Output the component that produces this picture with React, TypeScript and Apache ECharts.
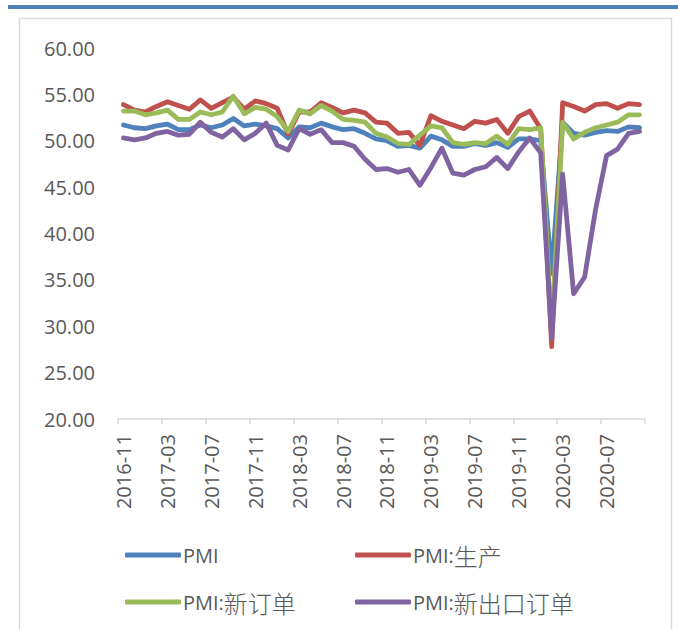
import React, { useEffect, useRef } from "react";
import * as echarts from "echarts";

const months: string[] = [
  "2016-11", "2016-12",
  "2017-01", "2017-02", "2017-03", "2017-04", "2017-05", "2017-06", "2017-07", "2017-08", "2017-09", "2017-10", "2017-11", "2017-12",
  "2018-01", "2018-02", "2018-03", "2018-04", "2018-05", "2018-06", "2018-07", "2018-08", "2018-09", "2018-10", "2018-11", "2018-12",
  "2019-01", "2019-02", "2019-03", "2019-04", "2019-05", "2019-06", "2019-07", "2019-08", "2019-09", "2019-10", "2019-11", "2019-12",
  "2020-01", "2020-02", "2020-03", "2020-04", "2020-05", "2020-06", "2020-07", "2020-08", "2020-09", "2020-10",
];

const pmi: number[] = [
  51.7, 51.4,
  51.3, 51.6, 51.8, 51.2, 51.2, 51.7, 51.4, 51.7, 52.4, 51.6, 51.8, 51.6,
  51.3, 50.3, 51.5, 51.4, 51.9, 51.5, 51.2, 51.3, 50.8, 50.2, 50.0, 49.4,
  49.5, 49.2, 50.5, 50.1, 49.4, 49.4, 49.7, 49.5, 49.8, 49.3, 50.2, 50.2,
  50.0, 35.7, 52.0, 50.8, 50.6, 50.9, 51.1, 51.0, 51.5, 51.4,
];

const production: number[] = [
  53.9, 53.3,
  53.1, 53.7, 54.2, 53.8, 53.4, 54.4, 53.5, 54.1, 54.7, 53.4, 54.3, 54.0,
  53.5, 50.7, 53.1, 53.1, 54.1, 53.6, 53.0, 53.3, 53.0, 52.0, 51.9, 50.8,
  50.9, 49.5, 52.7, 52.1, 51.7, 51.3, 52.1, 51.9, 52.3, 50.8, 52.6, 53.2,
  51.3, 27.8, 54.1, 53.7, 53.2, 53.9, 54.0, 53.5, 54.0, 53.9,
];

const newOrders: number[] = [
  53.2, 53.2,
  52.8, 53.0, 53.3, 52.3, 52.3, 53.1, 52.8, 53.1, 54.8, 52.9, 53.6, 53.4,
  52.6, 51.0, 53.3, 52.9, 53.8, 53.2, 52.3, 52.2, 52.0, 50.8, 50.4, 49.7,
  49.6, 50.6, 51.6, 51.4, 49.8, 49.6, 49.8, 49.7, 50.5, 49.6, 51.3, 51.2,
  51.4, 29.3, 52.0, 50.2, 50.9, 51.4, 51.7, 52.0, 52.8, 52.8,
];

const exportOrders: number[] = [
  50.3, 50.1,
  50.3, 50.8, 51.0, 50.6, 50.7, 52.0, 50.9, 50.4, 51.3, 50.1, 50.8, 51.9,
  49.5, 49.0, 51.3, 50.7, 51.2, 49.8, 49.8, 49.4, 48.0, 46.9, 47.0, 46.6,
  46.9, 45.2, 47.1, 49.2, 46.5, 46.3, 46.9, 47.2, 48.2, 47.0, 48.8, 50.3,
  48.7, 28.7, 46.4, 33.5, 35.3, 42.6, 48.4, 49.1, 50.8, 51.0,
];

const seriesNames: string[] = ["PMI", "PMI:生产", "PMI:新订单", "PMI:新出口订单"];
const seriesColors: string[] = ["#4F81BD", "#C0504D", "#9BBB59", "#8064A2"];

const FONT = '"Open Sans", "Noto Sans CJK SC", sans-serif';
const CJK_FONT = '"Noto Sans CJK SC", sans-serif';
const TEXT_COLOR = "#595959";

export default function App() {
  const ref = useRef<HTMLDivElement>(null);

  useEffect(() => {
    if (!ref.current) return;
    const chart = echarts.init(ref.current, undefined, { renderer: "svg" });
    const dataSets = [pmi, production, newOrders, exportOrders];

    const legendCommon = {
      orient: "vertical" as const,
      icon: "roundRect",
      itemWidth: 56,
      itemHeight: 5,
      itemGap: 23,
      padding: 0,
      formatter: (name: string) => {
        const idx = name.indexOf(":");
        if (idx < 0) return `{a|${name}}`;
        return `{a|${name.slice(0, idx + 1)}}{b|${name.slice(idx + 1)}}`;
      },
      textStyle: {
        fontFamily: FONT,
        fontSize: 20,
        color: TEXT_COLOR,
        lineHeight: 24,
        padding: [0, 0, 0, -3],
        rich: {
          a: { fontFamily: FONT, fontSize: 20, color: TEXT_COLOR, lineHeight: 24 },
          b: { fontFamily: CJK_FONT, fontSize: 24, color: TEXT_COLOR, lineHeight: 24, fontWeight: 300 },
        },
      },
    };

    chart.setOption({
      animation: false,
      backgroundColor: "#ffffff",
      textStyle: { fontFamily: FONT },
      graphic: [
        {
          type: "rect",
          shape: { x: 8, y: 5, width: 670, height: 4 },
          style: { fill: "#4F81BD" },
          silent: true,
        },
        {
          type: "rect",
          shape: { x: 19.5, y: 18.5, width: 652, height: 640 },
          style: { fill: "none", stroke: "#D9D9D9", lineWidth: 1.5 },
          silent: true,
        },
      ],
      legend: [
        {
          ...legendCommon,
          left: 125,
          top: 543,
          data: [seriesNames[0], seriesNames[2]],
        },
        {
          ...legendCommon,
          left: 355,
          top: 543,
          data: [seriesNames[1], seriesNames[3]],
        },
      ],
      grid: {
        left: 118,
        right: 33,
        top: 48,
        bottom: 210,
        containLabel: false,
      },
      xAxis: {
        type: "category",
        data: months,
        boundaryGap: true,
        axisLine: { show: true, lineStyle: { color: "#D9D9D9", width: 1.5 } },
        axisTick: {
          show: true,
          interval: 3,
          length: 5,
          inside: false,
          lineStyle: { color: "#D9D9D9", width: 1.5 },
        },
        axisLabel: {
          interval: 3,
          rotate: 90,
          margin: 15,
          fontFamily: FONT,
          fontSize: 20,
          color: TEXT_COLOR,
        },
        splitLine: { show: false },
      },
      yAxis: {
        type: "value",
        min: 20,
        max: 60,
        interval: 5,
        axisLine: { show: false },
        axisTick: { show: false },
        splitLine: { show: false },
        axisLabel: {
          margin: 23,
          fontFamily: FONT,
          fontSize: 20,
          color: TEXT_COLOR,
          formatter: (v: number) => v.toFixed(2),
        },
      },
      series: seriesNames.map((name, i) => ({
        name,
        type: "line",
        data: dataSets[i],
        showSymbol: false,
        symbol: "none",
        color: seriesColors[i],
        lineStyle: { width: 4.8, color: seriesColors[i], join: "round", cap: "round" },
        emphasis: { disabled: true },
      })),
    });

    return () => chart.dispose();
  }, []);

  return (
    <div
      ref={ref}
      style={{ position: "fixed", left: 0, top: 0, width: 678, height: 629 }}
    />
  );
}
